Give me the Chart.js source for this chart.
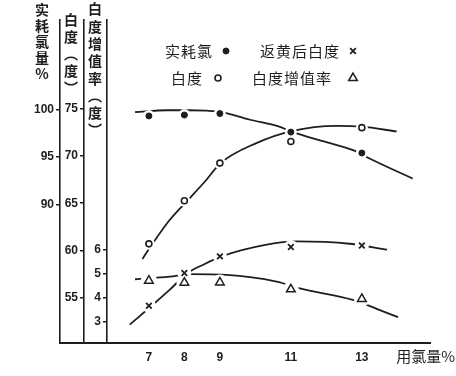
<!DOCTYPE html>
<html>
<head>
<meta charset="utf-8">
<script src="https://cdn.jsdelivr.net/npm/chart.js@4.4.0/dist/chart.umd.min.js"></script>
<style>
  html, body { margin: 0; padding: 0; background: #fff; }
  canvas { display: block; }
</style>
</head>
<body>
<canvas id="chart" width="456" height="376"></canvas>
<script>
// 用氯量 % (x)
const doses = [7, 8, 9, 11, 13];

// measured points
const chlorineUsed = [99.3, 99.4, 99.55, 97.6, 95.4];     // 实耗氯 %
const brightness = [60.7, 65.26, 69.25, 71.54, 73.0];      // 白度
const revertBrightness = [54.15, 57.61, 59.37, 60.37, 60.53]; // 返黄后白度
const gainRate = [4.72, 4.64, 4.65, 4.36, 3.96];           // 白度增值率

// hand drawn curves
const chlorineFitX = [6.61, 7.5, 8.1, 8.63, 9.06, 9.85, 10.65, 11.02, 11.9, 12.75, 13.23, 14.43];
const chlorineFitY = [99.7, 99.9, 99.9, 99.85, 99.7, 98.9, 98.2, 97.65, 96.64, 95.7, 94.8, 92.7];
const brightnessFitX = [6.82, 7.1, 7.59, 8.08, 8.58, 9.02, 10.03, 11.02, 12.29, 13.0, 13.98];
const brightnessFitY = [59.1, 60.7, 63.25, 65.26, 67.3, 69.25, 71.37, 72.64, 73.2, 73.1, 72.6];
const revertFitX = [6.46, 7.08, 7.59, 8.09, 8.53, 9.05, 10.32, 11.16, 12.66, 13.71];
const revertFitY = [52.14, 54.15, 55.85, 57.61, 58.49, 59.37, 60.61, 60.96, 60.71, 60.08];
const gainFitX = [6.61, 7.59, 8.15, 9.19, 10.6, 11.25, 12.75, 13.4, 14.02];
const gainFitY = [4.78, 4.89, 4.99, 4.96, 4.68, 4.40, 3.92, 3.56, 3.2];

// tick labels
const doseTicks = [7, 8, 9, 11, 13];
const chlorineTicks = [90, 95, 100];
const brightnessTicks = [55, 60, 65, 70, 75];
const gainTicks = [3, 4, 5, 6];

const ink = '#1e1e1e';
const numFont = { family: '"Liberation Sans", Arial, sans-serif', size: 12, weight: 'bold' };
const cjk = '"Noto Sans CJK SC", "Noto Sans CJK JP", sans-serif';

function pts(xs, ys) {
    return xs.map((x, i) => ({ x: x, y: ys[i] }));
}

function fixTicks(list) {
    return function (scale) {
        scale.ticks = list.map(v => ({ value: v }));
    };
}

function curve(xs, ys, axis) {
    return {
        type: 'line', data: pts(xs, ys), yAxisID: axis,
        borderColor: ink, borderWidth: 1.8, pointRadius: 0,
        cubicInterpolationMode: 'monotone', fill: false, order: 3
    };
}

// white rings under the markers, so the curves break around them like on the print
function halo(ys, axis, r) {
    return {
        type: 'scatter', data: pts(doses, ys), yAxisID: axis,
        pointRadius: r, pointBackgroundColor: '#fff', pointBorderWidth: 0,
        pointBorderColor: '#fff', order: 2
    };
}

const markers = [
    { ys: chlorineUsed, axis: 'yA', style: 'circle', r: 3, fill: ink, bw: 1 },
    { ys: brightness, axis: 'yB', style: 'circle', r: 3, fill: '#fff', bw: 1.6 },
    { ys: revertBrightness, axis: 'yB', style: 'crossRot', r: 4, fill: ink, bw: 1.8 },
    { ys: gainRate, axis: 'yC', style: 'triangle', r: 5, fill: '#fff', bw: 1.5 }
];

const datasets = [
    curve(chlorineFitX, chlorineFitY, 'yA'),
    curve(brightnessFitX, brightnessFitY, 'yB'),
    curve(revertFitX, revertFitY, 'yB'),
    curve(gainFitX, gainFitY, 'yC')
];
markers.forEach(m => {
    datasets.push(halo(m.ys, m.axis, m.r + 3));
    datasets.push({
        type: 'scatter', data: pts(doses, m.ys), yAxisID: m.axis,
        pointStyle: m.style, pointRadius: m.r, pointBackgroundColor: m.fill,
        pointBorderColor: ink, pointBorderWidth: m.bw, order: 1
    });
});

// legend: text first, marker after it
const legendItems = [
    { text: '实耗氯', right: 213, mark: 226, y: 51, m: 0 },
    { text: '返黄后白度', right: 340, mark: 353, y: 51, m: 2 },
    { text: '白度', right: 203, mark: 218, y: 78, m: 1 },
    { text: '白度增值率', right: 332, mark: 353, y: 78, m: 3 }
];

// vertical axis titles, one character under the other
const axisTitles = [
    { axis: 'yA', chars: ['实', '耗', '氯', '量', '%'], dx: -18, top: 10, step: 16 },
    { axis: 'yB', chars: ['白', '度', '︵', '度', '︶'], dx: -13, top: 20, step: 17 },
    { axis: 'yC', chars: ['白', '度', '增', '值', '率', '︵', '度', '︶'], dx: -12, top: 9, step: 17.3 }
];

const extras = {
    id: 'extras',
    afterDraw(chart) {
        const ctx = chart.ctx;
        const area = chart.chartArea;
        const s = chart.scales;
        ctx.save();

        // base line runs on under the left axes
        ctx.strokeStyle = ink;
        ctx.lineWidth = 2;
        ctx.beginPath();
        ctx.moveTo(s.yA.right - 1, area.bottom);
        ctx.lineTo(area.left, area.bottom);
        ctx.stroke();

        ctx.fillStyle = ink;
        ctx.textAlign = 'center';
        ctx.textBaseline = 'middle';
        ctx.font = 'bold 14px ' + cjk;
        axisTitles.forEach(t => {
            const cx = s[t.axis].right + t.dx;
            t.chars.forEach((c, i) => ctx.fillText(c, cx, t.top + i * t.step));
        });

        // x axis name at the right end of the tick row
        ctx.font = '15px ' + cjk;
        ctx.textAlign = 'right';
        ctx.fillText('用氯量%', chart.width - 1, s.x.top + 13);

        ctx.font = '15px ' + cjk;
        ctx.letterSpacing = '1px';
        legendItems.forEach(it => {
            const m = markers[it.m];
            ctx.fillStyle = ink;
            ctx.textAlign = 'right';
            ctx.fillText(it.text, it.right, it.y);
            ctx.fillStyle = m.fill;
            ctx.strokeStyle = ink;
            ctx.lineWidth = m.bw;
            Chart.helpers.drawPoint(ctx, { pointStyle: m.style, radius: m.r, rotation: 0, borderWidth: m.bw }, it.mark, it.y);
        });
        ctx.restore();
    }
};

function leftAxis(min, max, ticks, weight, width) {
    return {
        type: 'linear', position: 'left', weight: weight, min: min, max: max,
        afterBuildTicks: fixTicks(ticks),
        afterFit: scale => { scale.width = width; },
        grid: { drawOnChartArea: false, drawTicks: true, tickLength: 4, color: ink, lineWidth: 1.5 },
        border: { color: ink, width: 1.6 },
        ticks: { color: ink, font: numFont, padding: 2 }
    };
}

new Chart(document.getElementById('chart'), {
    data: { datasets: datasets },
    options: {
        responsive: false,
        animation: false,
        layout: { padding: { top: 20, right: 26, left: 0, bottom: 0 } },
        plugins: { legend: { display: false }, tooltip: { enabled: false } },
        scales: {
            x: {
                type: 'linear', min: 5.82, max: 14.92,
                afterBuildTicks: fixTicks(doseTicks),
                afterFit: scale => { scale.height = 33; },
                grid: { display: false, drawTicks: false },
                border: { color: ink, width: 2 },
                ticks: { color: ink, font: numFont, padding: 7 }
            },
            yA: leftAxis(75.4, 109.4, chlorineTicks, 2, 60),
            yB: leftAxis(50.2, 84.4, brightnessTicks, 1, 24),
            yC: leftAxis(2.125, 15.58, gainTicks, 0, 23)
        }
    },
    plugins: [extras]
});
</script>
</body>
</html>
